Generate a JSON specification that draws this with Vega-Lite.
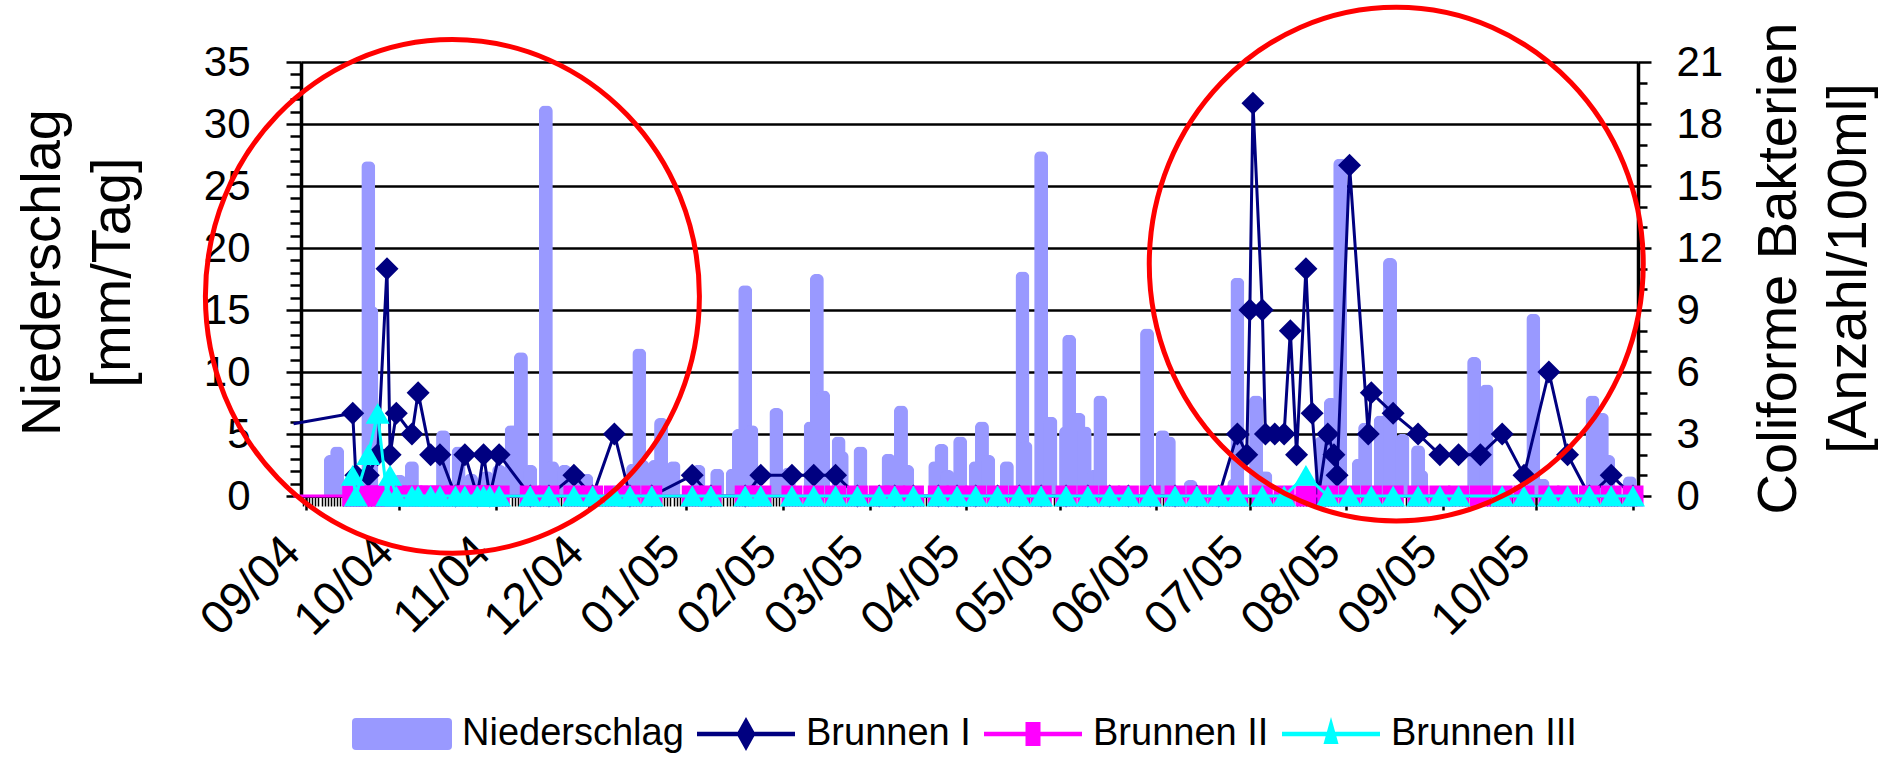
{
  "$schema": "https://vega.github.io/schema/vega-lite/v6.json",
  "width": 1337,
  "height": 434,
  "autosize": {"type": "none"},
  "padding": {"left": 301, "top": 62, "right": 252, "bottom": 263},
  "background": "white",
  "config": {
    "view": {"stroke": null},
    "font": "Liberation Sans",
    "axis": {"labelFont": "Liberation Sans", "titleFont": "Liberation Sans", "labelColor": "black", "titleColor": "black", "domainColor": "black", "tickColor": "black", "titleFontWeight": "normal"}
  },
  "datasets": {
    "rain": [
      {"date": "2004-09-09", "mm": 3.3}, {"date": "2004-09-11", "mm": 4.0}, {"date": "2004-09-21", "mm": 27.0}, {"date": "2004-09-22", "mm": 15.3},
      {"date": "2004-10-01", "mm": 1.7}, {"date": "2004-10-05", "mm": 2.8}, {"date": "2004-10-15", "mm": 5.3}, {"date": "2004-10-20", "mm": 4.0},
      {"date": "2004-10-24", "mm": 1.8}, {"date": "2004-10-29", "mm": 2.0}, {"date": "2004-11-02", "mm": 2.5}, {"date": "2004-11-06", "mm": 5.7},
      {"date": "2004-11-09", "mm": 11.6}, {"date": "2004-11-12", "mm": 2.5}, {"date": "2004-11-17", "mm": 31.5}, {"date": "2004-11-19", "mm": 2.8},
      {"date": "2004-11-23", "mm": 2.5}, {"date": "2004-11-27", "mm": 2.1}, {"date": "2004-11-30", "mm": 1.8}, {"date": "2004-12-15", "mm": 2.6},
      {"date": "2004-12-17", "mm": 11.9}, {"date": "2004-12-18", "mm": 2.9}, {"date": "2004-12-22", "mm": 2.9}, {"date": "2004-12-24", "mm": 6.3},
      {"date": "2004-12-28", "mm": 2.8}, {"date": "2005-01-05", "mm": 2.5}, {"date": "2005-01-11", "mm": 2.2}, {"date": "2005-01-16", "mm": 2.2},
      {"date": "2005-01-18", "mm": 5.4}, {"date": "2005-01-20", "mm": 17.0}, {"date": "2005-01-22", "mm": 5.7}, {"date": "2005-01-30", "mm": 7.1},
      {"date": "2005-02-03", "mm": 2.3}, {"date": "2005-02-10", "mm": 6.0}, {"date": "2005-02-12", "mm": 17.9}, {"date": "2005-02-14", "mm": 8.5},
      {"date": "2005-02-19", "mm": 4.8}, {"date": "2005-02-20", "mm": 3.6}, {"date": "2005-02-26", "mm": 4.0}, {"date": "2005-03-07", "mm": 3.4},
      {"date": "2005-03-11", "mm": 7.3}, {"date": "2005-03-13", "mm": 2.5}, {"date": "2005-03-22", "mm": 2.8}, {"date": "2005-03-24", "mm": 4.2},
      {"date": "2005-03-26", "mm": 2.1}, {"date": "2005-03-30", "mm": 4.8}, {"date": "2005-04-04", "mm": 2.8}, {"date": "2005-04-06", "mm": 6.0},
      {"date": "2005-04-08", "mm": 3.3}, {"date": "2005-04-14", "mm": 2.8}, {"date": "2005-04-19", "mm": 18.1}, {"date": "2005-04-20", "mm": 4.4},
      {"date": "2005-04-25", "mm": 27.8}, {"date": "2005-04-28", "mm": 6.4}, {"date": "2005-05-03", "mm": 5.6}, {"date": "2005-05-04", "mm": 13.0},
      {"date": "2005-05-07", "mm": 6.7}, {"date": "2005-05-09", "mm": 5.6}, {"date": "2005-05-12", "mm": 2.1}, {"date": "2005-05-14", "mm": 8.1},
      {"date": "2005-05-29", "mm": 13.5}, {"date": "2005-06-03", "mm": 5.3}, {"date": "2005-06-05", "mm": 4.8}, {"date": "2005-06-12", "mm": 1.3},
      {"date": "2005-06-26", "mm": 1.4}, {"date": "2005-06-27", "mm": 17.6}, {"date": "2005-07-03", "mm": 8.1}, {"date": "2005-07-04", "mm": 1.9},
      {"date": "2005-07-06", "mm": 2.0}, {"date": "2005-07-24", "mm": 4.8}, {"date": "2005-07-27", "mm": 7.9}, {"date": "2005-07-30", "mm": 27.2},
      {"date": "2005-08-05", "mm": 3.0}, {"date": "2005-08-07", "mm": 5.9}, {"date": "2005-08-12", "mm": 6.5}, {"date": "2005-08-15", "mm": 19.2},
      {"date": "2005-08-19", "mm": 5.0}, {"date": "2005-08-24", "mm": 4.1}, {"date": "2005-08-25", "mm": 2.1}, {"date": "2005-09-11", "mm": 11.2},
      {"date": "2005-09-15", "mm": 9.0}, {"date": "2005-09-30", "mm": 14.7}, {"date": "2005-10-03", "mm": 1.4}, {"date": "2005-10-19", "mm": 8.1},
      {"date": "2005-10-22", "mm": 6.7}, {"date": "2005-10-24", "mm": 3.3}, {"date": "2005-10-31", "mm": 1.6}
    ],
    "wells": [
      {"date": "2004-08-28", "I": 3.5, "II": 0, "III": null},
      {"date": "2004-09-16", "I": 4, "II": 0, "III": 1},
      {"date": "2004-09-17", "I": 1, "II": 0, "III": 0},
      {"date": "2004-09-21", "I": 1, "II": 0, "III": 2},
      {"date": "2004-09-24", "I": 2, "II": 0, "III": 4},
      {"date": "2004-09-27", "I": 11, "II": 0, "III": 0},
      {"date": "2004-09-28", "I": 2, "II": 0, "III": 1},
      {"date": "2004-09-30", "I": 4, "II": 0, "III": 0},
      {"date": "2004-10-05", "I": 3, "II": 0, "III": 0},
      {"date": "2004-10-07", "I": 5, "II": 0, "III": 0},
      {"date": "2004-10-11", "I": 2, "II": 0, "III": 0},
      {"date": "2004-10-14", "I": 2, "II": 0, "III": 0},
      {"date": "2004-10-19", "I": 0, "II": 0, "III": 0},
      {"date": "2004-10-22", "I": 2, "II": 0, "III": 0},
      {"date": "2004-10-26", "I": 0, "II": 0, "III": 0},
      {"date": "2004-10-28", "I": 2, "II": 0, "III": 0},
      {"date": "2004-10-30", "I": 0, "II": 0, "III": 0},
      {"date": "2004-11-02", "I": 2, "II": 0, "III": 0},
      {"date": "2004-11-12", "I": 0, "II": 0, "III": 0},
      {"date": "2004-11-18", "I": 0, "II": 0, "III": 0},
      {"date": "2004-11-26", "I": 1, "II": 0, "III": 0},
      {"date": "2004-12-02", "I": 0, "II": 0, "III": 0},
      {"date": "2004-12-09", "I": 3, "II": 0, "III": 0},
      {"date": "2004-12-14", "I": 0, "II": 0, "III": 0},
      {"date": "2004-12-21", "I": 0, "II": 0, "III": 0},
      {"date": "2005-01-03", "I": 1, "II": 0, "III": 0},
      {"date": "2005-01-09", "I": 0, "II": 0, "III": 0},
      {"date": "2005-01-20", "I": 0, "II": 0, "III": 0},
      {"date": "2005-01-25", "I": 1, "II": 0, "III": 0},
      {"date": "2005-02-04", "I": 1, "II": 0, "III": 0},
      {"date": "2005-02-11", "I": 1, "II": 0, "III": 0},
      {"date": "2005-02-18", "I": 1, "II": 0, "III": 0},
      {"date": "2005-02-25", "I": 0, "II": 0, "III": 0},
      {"date": "2005-03-04", "I": 0, "II": 0, "III": 0},
      {"date": "2005-03-09", "I": 0, "II": 0, "III": 0},
      {"date": "2005-03-15", "I": 0, "II": 0, "III": 0},
      {"date": "2005-03-23", "I": 0, "II": 0, "III": 0},
      {"date": "2005-03-29", "I": 0, "II": 0, "III": 0},
      {"date": "2005-04-04", "I": 0, "II": 0, "III": 0},
      {"date": "2005-04-11", "I": 0, "II": 0, "III": 0},
      {"date": "2005-04-18", "I": 0, "II": 0, "III": 0},
      {"date": "2005-04-25", "I": 0, "II": 0, "III": 0},
      {"date": "2005-05-03", "I": 0, "II": 0, "III": 0},
      {"date": "2005-05-10", "I": 0, "II": 0, "III": 0},
      {"date": "2005-05-17", "I": 0, "II": 0, "III": 0},
      {"date": "2005-05-23", "I": 0, "II": 0, "III": 0},
      {"date": "2005-05-30", "I": 0, "II": 0, "III": 0},
      {"date": "2005-06-07", "I": 0, "II": 0, "III": 0},
      {"date": "2005-06-14", "I": 0, "II": 0, "III": 0},
      {"date": "2005-06-21", "I": 0, "II": 0, "III": 0},
      {"date": "2005-06-27", "I": 3, "II": 0, "III": 0},
      {"date": "2005-06-30", "I": 2, "II": null, "III": null},
      {"date": "2005-07-01", "I": 9, "II": null, "III": null},
      {"date": "2005-07-02", "I": 19, "II": null, "III": null},
      {"date": "2005-07-05", "I": 9, "II": 0, "III": 0},
      {"date": "2005-07-06", "I": 3, "II": null, "III": null},
      {"date": "2005-07-09", "I": 3, "II": null, "III": null},
      {"date": "2005-07-12", "I": 3, "II": 0, "III": 0},
      {"date": "2005-07-14", "I": 8, "II": null, "III": null},
      {"date": "2005-07-16", "I": 2, "II": null, "III": null},
      {"date": "2005-07-19", "I": 11, "II": 0, "III": 1},
      {"date": "2005-07-21", "I": 4, "II": null, "III": null},
      {"date": "2005-07-23", "I": 0, "II": null, "III": null},
      {"date": "2005-07-26", "I": 3, "II": 0, "III": 0},
      {"date": "2005-07-28", "I": 2, "II": null, "III": null},
      {"date": "2005-07-29", "I": 1, "II": null, "III": null},
      {"date": "2005-08-02", "I": 16, "II": 0, "III": 0},
      {"date": "2005-08-08", "I": 3, "II": null, "III": null},
      {"date": "2005-08-09", "I": 5, "II": 0, "III": 0},
      {"date": "2005-08-16", "I": 4, "II": 0, "III": 0},
      {"date": "2005-08-24", "I": 3, "II": 0, "III": 0},
      {"date": "2005-08-31", "I": 2, "II": 0, "III": 0},
      {"date": "2005-09-06", "I": 2, "II": 0, "III": 0},
      {"date": "2005-09-13", "I": 2, "II": 0, "III": null},
      {"date": "2005-09-20", "I": 3, "II": 0, "III": 0},
      {"date": "2005-09-27", "I": 1, "II": 0, "III": 0},
      {"date": "2005-10-05", "I": 6, "II": 0, "III": 0},
      {"date": "2005-10-11", "I": 2, "II": 0, "III": 0},
      {"date": "2005-10-18", "I": 0, "II": 0, "III": 0},
      {"date": "2005-10-25", "I": 1, "II": 0, "III": 0},
      {"date": "2005-11-01", "I": 0, "II": 0, "III": 0}
    ],
    "circles": [
      {"date": "2004-10-18", "level": 16.1},
      {"date": "2005-08-17", "level": 18.7}
    ]
  },
  "encoding": {
    "x": {
      "field": "date", "type": "temporal",
      "scale": {"type": "utc", "domain": [{"year": 2004, "month": 9, "date": 1, "utc": true}, {"year": 2005, "month": 11, "date": 1, "utc": true}]},
      "axis": {
        "title": null, "grid": false,
        "tickCount": {"interval": "day", "step": 1},
        "labelExpr": "utcdate(datum.value) == 1 && !(utcyear(datum.value) == 2005 && utcmonth(datum.value) == 10) ? utcFormat(datum.value, '%m/%y') : ''",
        "labelAngle": -45, "labelAlign": "right", "labelBaseline": "top",
        "labelFontSize": 47, "labelPadding": 18, "labelOffset": -30,
        "labelOverlap": false, "labelBound": false, "labelFlush": false,
        "tickSize": {"condition": {"test": "utcdate(datum.value) == 1", "value": 14}, "value": 10},
        "tickWidth": {"condition": {"test": "utcdate(datum.value) == 1", "value": 2.5}, "value": 1.5},
        "domainWidth": 3
      }
    }
  },
  "layer": [
    {
      "data": {"name": "rain"},
      "mark": {"type": "bar", "size": 14, "cornerRadiusTopLeft": 6, "cornerRadiusTopRight": 6},
      "encoding": {
        "y": {
          "field": "mm", "type": "quantitative",
          "scale": {"domain": [0, 35], "nice": false},
          "axis": {
            "orient": "left",
            "values": [0,1,2,3,4,5,6,7,8,9,10,11,12,13,14,15,16,17,18,19,20,21,22,23,24,25,26,27,28,29,30,31,32,33,34,35],
            "title": ["Niederschlag", "[mm/Tag]"],
            "titleFontSize": 56, "titleLineHeight": 70, "titleAngle": -90, "titleAlign": "center", "titleBaseline": "alphabetic",
            "titleX": -242, "titleY": 210,
            "labelExpr": "datum.value % 5 == 0 ? datum.label : ''",
            "labelFontSize": 42, "labelPadding": 36, "labelOverlap": false, "labelBound": false,
            "tickSize": {"condition": {"test": "datum.value % 5 == 0", "value": 15}, "value": 11},
            "tickWidth": 2.5, "domainWidth": 3.5,
            "grid": true, "gridColor": "black", "gridWidth": 2.5,
            "gridOpacity": {"condition": {"test": "datum.value % 5 == 0", "value": 1}, "value": 0}
          }
        },
        "color": {
          "datum": "Niederschlag",
          "scale": {"domain": ["Niederschlag", "Brunnen I", "Brunnen II", "Brunnen III"], "range": ["#9999FF", "#000080", "#FF00FF", "#00FFFF"]},
          "legend": {
            "title": null, "orient": "none", "legendX": 51, "legendY": 622, "direction": "horizontal", "columns": 4,
            "symbolSize": 10000, "labelFontSize": 38, "labelFont": "Liberation Sans", "labelColor": "black",
            "labelOffset": 10, "columnPadding": 12, "padding": 0, "labelLimit": 0,
            "encode": {
              "symbols": {
                "update": {
                  "shape": {"signal": "datum.value == 'Niederschlag' ? 'M -0.92 -0.32 L 0.92 -0.32 Q 1 -0.32 1 -0.24 L 1 0.24 Q 1 0.32 0.92 0.32 L -0.92 0.32 Q -1 0.32 -1 0.24 L -1 -0.24 Q -1 -0.32 -0.92 -0.32 Z' : datum.value == 'Brunnen I' ? 'M -0.98 -0.045 L 0.98 -0.045 L 0.98 0.045 L -0.98 0.045 Z M 0 -0.34 L 0.19 0 L 0 0.34 L -0.19 0 Z' : datum.value == 'Brunnen II' ? 'M -0.98 -0.045 L 0.98 -0.045 L 0.98 0.045 L -0.98 0.045 Z M -0.15 -0.24 L 0.15 -0.24 L 0.15 0.24 L -0.15 0.24 Z' : 'M -0.98 -0.045 L 0.98 -0.045 L 0.98 0.045 L -0.98 0.045 Z M 0 -0.34 L 0.15 0.2 L -0.15 0.2 Z'"},
                  "fill": {"scale": "color", "field": "value"},
                  "stroke": {"value": "transparent"},
                  "strokeWidth": {"value": 0},
                  "opacity": {"value": 1},
                  "size": {"value": 10000}
                }
              }
            }
          }
        }
      }
    },
    {
      "data": {"name": "wells"},
      "transform": [
        {"fold": ["I", "II", "III"], "as": ["series", "value"]},
        {"filter": "isValid(datum.value)"}
      ],
      "encoding": {
        "y": {
          "field": "value", "type": "quantitative", "scale": {"domain": [0, 21], "nice": false},
          "axis": {
            "orient": "right",
            "values": [0,1,2,3,4,5,6,7,8,9,10,11,12,13,14,15,16,17,18,19,20,21],
            "title": ["Coliforme Bakterien", "[Anzahl/100ml]"],
            "titleFontSize": 56, "titleLineHeight": 70, "titleAngle": -90, "titleAlign": "center", "titleBaseline": "alphabetic",
            "titleX": 157, "titleY": 206,
            "labelExpr": "datum.value % 3 == 0 ? datum.label : ''",
            "labelFontSize": 42, "labelPadding": 25, "labelOverlap": false, "labelBound": false,
            "tickSize": {"condition": {"test": "datum.value % 3 == 0", "value": 13}, "value": 9},
            "tickWidth": 2.5, "domainWidth": 3.5, "grid": false
          }
        }
      },
      "layer": [
        {
          "transform": [{"filter": "datum.series == 'I'"}],
          "mark": {"type": "line", "strokeWidth": 3, "clip": false},
          "encoding": {
            "color": {"datum": "Brunnen I", "scale": {"domain": ["Niederschlag", "Brunnen I", "Brunnen II", "Brunnen III"], "range": ["#9999FF", "#000080", "#FF00FF", "#00FFFF"]}}
          }
        },
        {
          "transform": [{"filter": "datum.series == 'I' && time(datum.date) >= utc(2004, 8, 1)"}],
          "mark": {"type": "point", "shape": "diamond", "size": 529, "filled": true, "opacity": 1, "clip": false},
          "encoding": {"color": {"datum": "Brunnen I"}}
        },
        {
          "transform": [{"filter": "datum.series == 'II'"}],
          "mark": {"type": "line", "strokeWidth": 3, "clip": false},
          "encoding": {"color": {"datum": "Brunnen II"}}
        },
        {
          "transform": [{"filter": "datum.series == 'II' && time(datum.date) >= utc(2004, 8, 1)"}],
          "mark": {"type": "point", "shape": "square", "size": 441, "filled": true, "opacity": 1, "clip": false},
          "encoding": {"color": {"datum": "Brunnen II"}}
        },
        {
          "transform": [{"filter": "datum.series == 'III'"}],
          "mark": {"type": "line", "strokeWidth": 3, "clip": false},
          "encoding": {"color": {"datum": "Brunnen III"}}
        },
        {
          "transform": [{"filter": "datum.series == 'III' && time(datum.date) >= utc(2004, 8, 1)"}],
          "mark": {"type": "point", "shape": "triangle-up", "size": 576, "filled": true, "opacity": 1, "clip": false},
          "encoding": {"color": {"datum": "Brunnen III"}}
        }
      ]
    },
    {
      "data": {"name": "circles"},
      "mark": {"type": "point", "shape": "M -1 0 A 1 1.04 0 1 1 1 0 A 1 1.04 0 1 1 -1 0 Z", "size": 244036, "filled": false, "color": "#FF0000", "strokeWidth": 5, "opacity": 1, "clip": false},
      "encoding": {
        "y": {"field": "level", "type": "quantitative", "scale": {"domain": [0, 35], "nice": false}, "axis": null}
      }
    }
  ],
  "resolve": {"scale": {"y": "independent"}, "axis": {"y": "independent"}}
}
